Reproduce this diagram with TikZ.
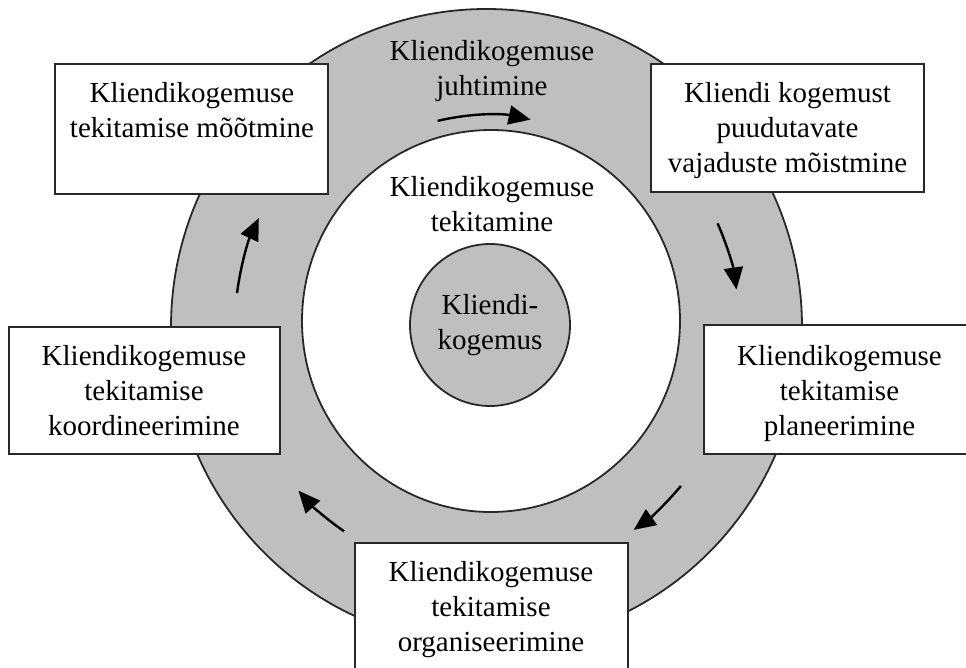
\documentclass[tikz,border=0pt]{standalone}
\usepackage{fontspec}
\setmainfont{Liberation Serif}
\usetikzlibrary{arrows.meta}
\definecolor{ringgray}{RGB}{191,191,191}
\definecolor{edgegray}{RGB}{40,40,40}
\begin{document}
\begin{tikzpicture}[x=1pt,y=-1pt,
  box/.style={draw=edgegray, line width=2pt, fill=white, inner sep=0pt},
  lbl/.style={font=\fontsize{29}{35}\selectfont, align=center, inner sep=0pt, anchor=north, text=black},
  flow/.style={line width=2.4pt, draw=black, -{Triangle[length=22pt,width=19pt]}},
  ring/.style={draw=edgegray, line width=1.8pt}]
\useasboundingbox (0,0) rectangle (966,668);
\clip (0,0) rectangle (966,668);
\fill[white] (0,0) rectangle (966,668);
\coordinate (C) at (487,325);
\coordinate (outerC) at (486.5,327);
\coordinate (innerC) at (491,321);
\coordinate (coreC) at (490,325);
% rings
\draw[ring, fill=ringgray] (outerC) ellipse [x radius=315.5, y radius=318];
\draw[ring, fill=white] (innerC) ellipse [x radius=189, y radius=191];
\draw[ring, fill=ringgray] (coreC) ellipse [x radius=80, y radius=81];
% boxes
\node[box, minimum width=273pt, minimum height=130pt] (b1) at (191.5,129) {};
\node[box, minimum width=273pt, minimum height=128pt] (b2) at (787.5,128) {};
\node[box, minimum width=271pt, minimum height=127pt] (b3) at (144.5,390.5) {};
\node[box, minimum width=276pt, minimum height=129pt] (b4) at (842,389.5) {};
\node[box, minimum width=273pt, minimum height=147pt] (b5) at (491.5,616.5) {};
% arrows
\draw[flow] (C) ++(256.4:210) arc[start angle=256.4, end angle=282, radius=210];
\draw[flow] (C) ++(336.2:252) arc[start angle=336.2, end angle=351.9, radius=252];
\draw[flow] (C) ++(39.7:252) arc[start angle=39.7, end angle=54.4, radius=252];
\draw[flow] (C) ++(124.7:251) arc[start angle=124.7, end angle=138.7, radius=251];
\draw[flow] (C) ++(187.3:252) arc[start angle=187.3, end angle=205.1, radius=252];
% texts
\node[lbl] (ttop) at (492,40.2) {Kliendikogemuse\\juhtimine};
\node[lbl] (t1) at (192,82.2) {Kliendikogemuse\\tekitamise mõõtmine};
\node[lbl] (t2) at (787.5,82.2) {Kliendi kogemust\\puudutavate\\vajaduste mõistmine};
\node[lbl] (tin) at (492,176.2) {Kliendikogemuse\\tekitamine};
\node[lbl] (tcore) at (490,294.2) {Kliendi-\\kogemus};
\node[lbl] (t3) at (144,345.2) {Kliendikogemuse\\tekitamise\\koordineerimine};
\node[lbl] (t4) at (839.5,345.2) {Kliendikogemuse\\tekitamise\\planeerimine};
\node[lbl] (t5) at (491,561.2) {Kliendikogemuse\\tekitamise\\organiseerimine};
\end{tikzpicture}
\end{document}
